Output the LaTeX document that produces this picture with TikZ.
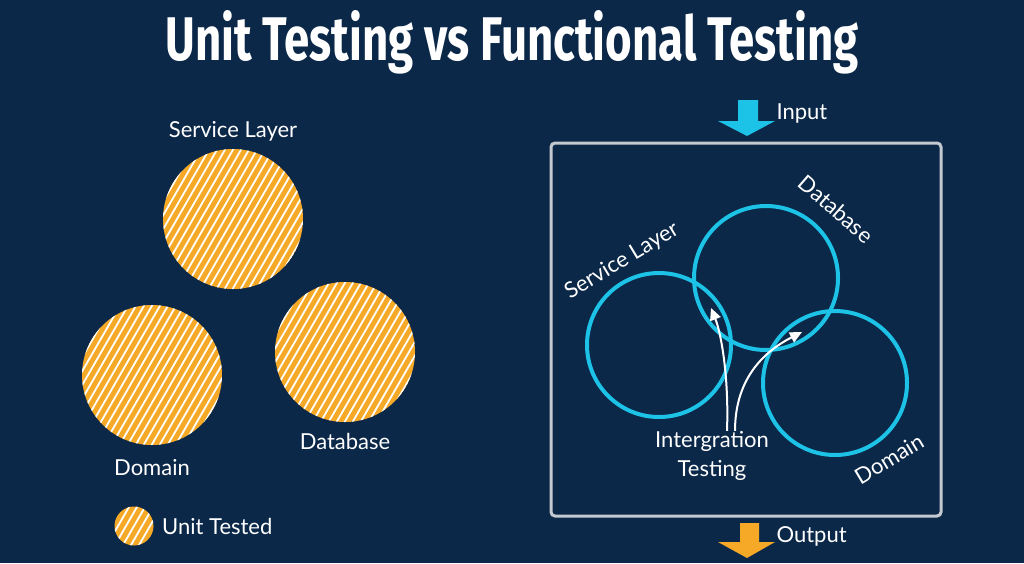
\documentclass[tikz,border=0pt]{standalone}
\usepackage{fontspec}
\setmainfont{Lato}
\newfontfamily\titlefont{Fira Sans}
\usetikzlibrary{positioning,arrows.meta}
\definecolor{navy}{HTML}{0B2849}
\definecolor{uorange}{HTML}{F5A927}
\definecolor{fcyan}{HTML}{1DC3E6}
\definecolor{framegray}{HTML}{C5CAD0}

\begin{document}
\begin{tikzpicture}[x=1pt,y=-1pt,
  lbl/.style={text=white,font=\fontsize{22}{29}\selectfont},
  unitcirc/.style={circle,fill=uorange,minimum size=#1,inner sep=0pt,
    path picture={\foreach \k in {-11,...,11}
      \draw[white,line width=1.8pt] ([xshift=\k*8pt]path picture bounding box.center)
        ++(120:110) -- ++(-60:220);}},
  unitcirc/.default=140pt,
  funcirc/.style={circle,draw=fcyan,line width=4pt,minimum size=144pt,inner sep=0pt},
  arr/.style={white,line width=2pt,-{Triangle[length=12pt,width=11pt]}}]
\fill[navy] (0,0) rectangle (1024,563);
\useasboundingbox (0,0) rectangle (1024,563);
% title
\node[text=white,anchor=base] (title) at (512,60)
  {\resizebox{693pt}{50pt}{\titlefont\bfseries Unit Testing vs Functional Testing}};
% unit testing: separate parts
\node[unitcirc] (svc) at (233,219) {};
\node[unitcirc] (dom) at (152,375) {};
\node[unitcirc] (db) at (345,352) {};
\node[lbl] (svclbl) at (233,131) {Service Layer};
\node[lbl] (domlbl) at (152,468) {Domain};
\node[lbl] (dblbl) at (345,441) {Database};
\node[unitcirc=39pt] (key) at (134,526) {};
\node[lbl,right=5pt of key] (keylbl) {Unit Tested};
% functional testing: box with input and output
\draw[framegray,line width=3pt,rounded corners=4pt] (551,143) rectangle (941,516);
\fill[fcyan] (738,100) -- (758,100) -- (758,121) -- (775,121) -- (747,136)
  -- (718,121) -- (738,121) -- cycle;
\node[lbl,anchor=west] (inlbl) at (773,114) {Input};
\fill[uorange] (740,523) -- (759,523) -- (759,542) -- (775,542) -- (747,558)
  -- (718,542) -- (740,542) -- cycle;
\node[lbl,anchor=west] (outlbl) at (773,536) {Output};
\node[funcirc] (fsvc) at (659,345) {};
\node[funcirc] (fdb) at (766,278) {};
\node[funcirc] (fdom) at (835,383) {};
\node[lbl,rotate=31] (fsvclbl) at (622,261) {Service Layer};
\node[lbl,rotate=-41] (fdblbl) at (836,209) {Database};
\node[lbl,rotate=31] (fdomlbl) at (889,459) {Domain};
% integration arrows into the overlaps
\node[lbl,align=center] (integ) at (712,456) {Intergration\\Testing};
\coordinate (ov1) at (711,308);
\coordinate (ov2) at (802,332);
\draw[arr] ([xshift=15pt,yshift=-3pt]integ.north) .. controls +(2,-55) and +(10,25) .. (ov1);
\draw[arr] ([xshift=23pt,yshift=-3pt]integ.north) .. controls +(0,-55) and +(-35,18) .. (ov2);
\end{tikzpicture}
\end{document}
